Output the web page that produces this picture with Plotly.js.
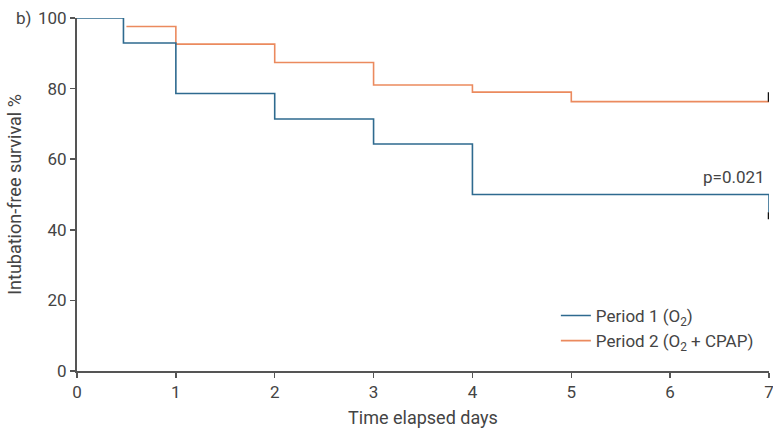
<!DOCTYPE html>
<html>
<head>
<meta charset="utf-8">
<script src="https://cdn.plot.ly/plotly-3.0.1.min.js"></script>
<style>html,body{margin:0;padding:0;background:#fff;}#chart{width:773px;height:428px;}</style>
</head>
<body>
<div id="chart"></div>
<script>
// Period 1 (O2) Kaplan-Meier steps
const p1Days = [0, 0.47, 1, 2, 3, 4, 7, 7];
const p1Surv = [100, 92.9, 78.6, 71.4, 64.3, 50, 50, 45];
// Period 2 (O2 + CPAP)
const p2Days = [0.5, 1, 2, 3, 4, 5, 7];
const p2Surv = [97.6, 92.6, 87.4, 81.0, 79.0, 76.3, 76.3];
// censor marks at end of follow-up
const censorDays = [7, 7];
const censorLow = [43, 76.3];
const censorHigh = [45, 79];
const xTicks = [0, 1, 2, 3, 4, 5, 6, 7];
const yTicks = [0, 20, 40, 60, 80, 100];
const seriesNames = ['Period 1 (O<sub>2</sub>)', 'Period 2 (O<sub>2</sub> + CPAP)'];

const blue = '#2e6a8f', orange = '#eb8a5e';
const traces = [
  {x: p2Days, y: p2Surv, mode: 'lines', line: {shape: 'hv', color: orange, width: 1.6}, name: seriesNames[1], legendrank: 2},
  {x: p1Days, y: p1Surv, mode: 'lines', line: {shape: 'hv', color: blue, width: 1.6}, name: seriesNames[0], legendrank: 1}
];
for (let i = 0; i < censorDays.length; i++) {
  traces.push({x: [censorDays[i], censorDays[i]], y: [censorLow[i], censorHigh[i]], mode: 'lines',
    line: {color: '#111', width: 2.5}, showlegend: false, hoverinfo: 'skip', cliponaxis: false});
}
const fam = 'Roboto, "Liberation Sans", sans-serif';
const font = {family: fam, size: 17, color: '#444'};
const titleFont = {family: fam, size: 18, color: '#444'};
const layout = {
  width: 773, height: 428,
  margin: {l: 77, r: 4, t: 18, b: 57},
  paper_bgcolor: '#fff', plot_bgcolor: '#fff',
  font: font,
  showlegend: true,
  legend: {x: 0.692, y: 0.207, xanchor: 'left', yanchor: 'top', traceorder: 'normal',
    font: {family: fam, size: 17, color: '#444'}, bgcolor: 'rgba(0,0,0,0)', itemgap: 13},
  xaxis: {range: [0, 7], tickvals: xTicks, ticktext: xTicks.map(String), showgrid: false, zeroline: false,
    showline: true, linecolor: '#555', linewidth: 2, ticks: 'outside', ticklen: 5, tickcolor: '#555', tickwidth: 1.5,
    ticklabeloverflow: 'allow', tickfont: font, title: {text: 'Time elapsed days', font: titleFont, standoff: 10}},
  yaxis: {range: [0, 100], tickvals: yTicks, ticktext: yTicks.map(String), showgrid: false, zeroline: false,
    showline: true, linecolor: '#555', linewidth: 2, ticks: 'outside', ticklen: 5, tickcolor: '#555', tickwidth: 1.5,
    tickfont: font, title: {text: 'Intubation-free survival %', font: titleFont, standoff: 12}},
  annotations: [
    {xref: 'paper', yref: 'paper', x: -0.091, y: 1, xanchor: 'left', yanchor: 'middle', text: 'b)', showarrow: false, font: font},
    {xref: 'x', yref: 'y', x: 7, y: 55, xanchor: 'right', yanchor: 'middle', text: 'p=0.021', showarrow: false, font: font, xshift: -2}
  ]
};
Plotly.newPlot('chart', traces, layout, {displayModeBar: false, staticPlot: true});
</script>
</body>
</html>
